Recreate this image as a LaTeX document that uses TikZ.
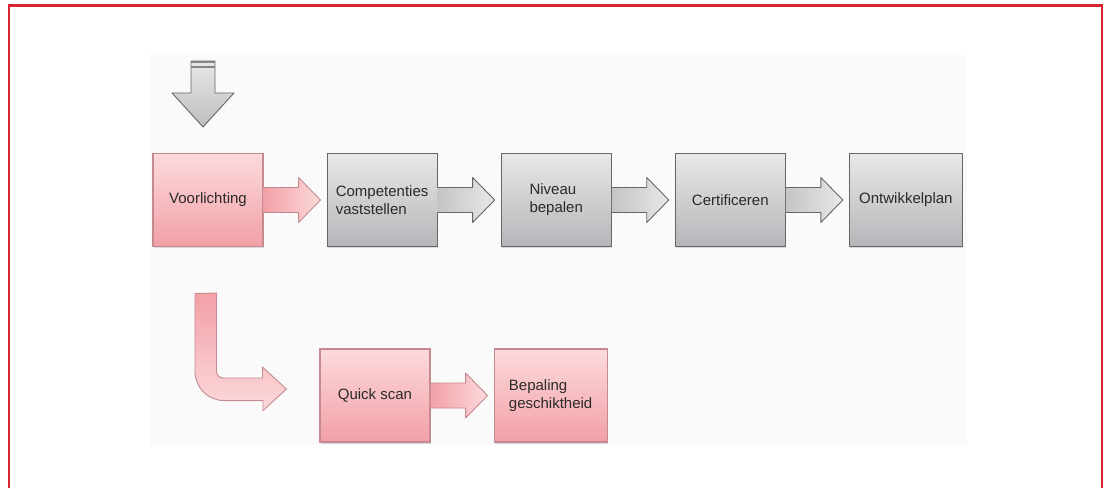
\documentclass[tikz,border=0pt]{standalone}
\usepackage{fontspec}
\setsansfont{Liberation Sans}
\usepackage{tikz}
\usetikzlibrary{positioning,calc,shadows}
\definecolor{evcRood}{HTML}{D9252F}
\definecolor{evcRoze}{HTML}{F8B9BD}
\definecolor{evcRozeLicht}{HTML}{FCDADC}
\definecolor{evcRozeDonker}{HTML}{F2A0A6}
\definecolor{evcRozeRand}{HTML}{C48A8F}
\definecolor{evcGrijsLicht}{HTML}{E8E8E8}
\definecolor{evcGrijsDonker}{HTML}{B6B6BA}
\definecolor{evcGrijsRand}{HTML}{666666}
\definecolor{evcTekst}{HTML}{2A2A2A}
\tikzset{
  evcBox/.style={
    rectangle,
    line width=1.1pt,
    align=left,
    minimum width=110pt,
    minimum height=93pt,
    inner sep=2pt,
    text=evcTekst,
    drop shadow={opacity=0.25, shadow xshift=0.5pt, shadow yshift=-1.5pt}
  },
  evcPinkBox/.style={
    evcBox,
    draw=evcRozeRand,
    top color=evcRozeLicht,
    bottom color=evcRozeDonker
  },
  evcGrayBox/.style={
    evcBox,
    draw=evcGrijsRand,
    top color=evcGrijsLicht,
    bottom color=evcGrijsDonker
  },
  evcPinkArrow/.style={
    draw=evcRozeRand,
    line width=0.9pt,
    line join=round,
    left color=evcRozeDonker,
    right color=evcRozeLicht
  },
  evcGrayArrow/.style={
    draw=evcGrijsRand,
    line width=0.9pt,
    line join=round,
    left color=evcGrijsDonker!80,
    right color=evcGrijsLicht
  }
}
% block arrow from one step to the next
\newcommand{\evcArrow}[3]{%
  \draw[#1] ($(#2.east)+(0,12.5)$) -- ($(#3.west)+(-28,12.5)$)
    -- ($(#3.west)+(-28,22.5)$) -- ($(#3.west)+(-6,0)$)
    -- ($(#3.west)+(-28,-22.5)$) -- ($(#3.west)+(-28,-12.5)$)
    -- ($(#2.east)+(0,-12.5)$);}

\begin{document}
\begin{tikzpicture}[
    x=1pt, y=1pt,
    font=\sffamily\fontsize{15}{18}\selectfont,
    node distance=63pt
  ]
  \useasboundingbox (0,0) rectangle (1111,-488);
  % frame and panel
  \draw[evcRood, line width=2.5pt] (9,-488) -- (9,-5.5) -- (1102,-5.5) -- (1102,-488);
  \fill[black!2] (150,-55) rectangle (967,-445);

  \node[evcPinkBox] (voorlichting) at (208,-200) {Voorlichting};
  \node[evcGrayBox, right=of voorlichting] (competenties) {Competenties\\vaststellen};
  \node[evcGrayBox, right=of competenties] (niveau) {Niveau\\bepalen};
  \node[evcGrayBox, right=of niveau] (certificeren) {Certificeren};
  \node[evcGrayBox, right=of certificeren, minimum width=113pt] (ontwikkelplan) {Ontwikkelplan};
  \node[evcPinkBox] (quickscan) at (375,-395.5) {Quick scan};
  \node[evcPinkBox, right=of quickscan, minimum width=113pt] (bepaling) {Bepaling\\geschiktheid};

  \evcArrow{evcPinkArrow}{voorlichting}{competenties}
  \evcArrow{evcGrayArrow}{competenties}{niveau}
  \evcArrow{evcGrayArrow}{niveau}{certificeren}
  \evcArrow{evcGrayArrow}{certificeren}{ontwikkelplan}
  \evcArrow{evcPinkArrow}{quickscan}{bepaling}

  % entry arrow
  \coordinate (entry) at ($(voorlichting.north)+(-5,92)$);
  \draw[draw=evcGrijsRand, line width=0.9pt, line join=round, top color=evcGrijsLicht, bottom color=evcGrijsDonker!90]
    (entry) ++(-12,0) -- ++(0,-32) -- ++(-19,0) -- ++(31,-34) -- ++(31,34) -- ++(-19,0) -- ++(0,32) -- cycle;
  \draw[evcGrijsRand!80, line width=2pt] ($(entry)+(-12,-1.5)$) -- ++(24,0);
  \draw[evcGrijsRand!80, line width=1.5pt] ($(entry)+(-12,-6)$) -- ++(24,0);

  % branch to quick scan
  \coordinate (branch) at ($(voorlichting.south)+(-2,-46.5)$);
  \draw[draw=evcRozeRand, line width=0.9pt, line join=round, top color=evcRozeDonker, bottom color=evcRozeLicht]
    (branch) ++(-11,0) -- ++(0,-78) arc[start angle=180, end angle=270, radius=29]
    -- ++(39,0) -- ++(0,-10) -- ($(quickscan.west)+(-33,6.5)$) -- ++(-24,22) -- ++(0,-11)
    -- ++(-39,0) arc[start angle=270, end angle=180, radius=7] -- ++(0,78) -- cycle;
\end{tikzpicture}
\end{document}
